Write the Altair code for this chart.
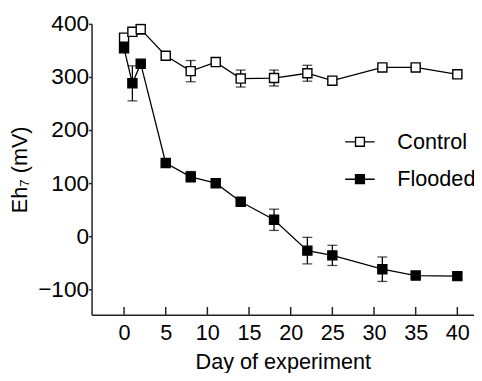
import altair as alt
import pandas as pd

days = [0, 1, 2, 5, 8, 11, 14, 18, 22, 25, 31, 35, 40]
control_mean = [374, 385, 390, 340, 311, 328, 297, 298, 307, 293, 318, 318, 305]
control_err = [4, 4, 9, 3, 20, 3, 16, 15, 15, 3, 3, 3, 3]
flooded_mean = [354, 288, 325, 138, 112, 100, 65, 31, -27, -36, -62, -74, -75]
flooded_err = [4, 33, 4, 4, 10, 4, 4, 20, 25, 19, 23, 4, 6]
series_names = ["Control", "Flooded"]
x_ticks = [0, 5, 10, 15, 20, 25, 30, 35, 40]
y_ticks = [-100, 0, 100, 200, 300, 400]

rows = []
for name, means, errs in [("Control", control_mean, control_err), ("Flooded", flooded_mean, flooded_err)]:
    for d, m, e in zip(days, means, errs):
        rows.append({"day": d, "mean": m, "lo": m - e, "hi": m + e, "series": name})
df = pd.DataFrame(rows)
ticks_df = pd.DataFrame({"day": x_ticks})

FONT = "Liberation Sans"

xenc = alt.X("day:Q", title="Day of experiment",
             scale=alt.Scale(domain=[-3.9, 42], nice=False, zero=False),
             axis=alt.Axis(values=x_ticks, ticks=False, grid=False, labelPadding=8,
                           labelFontSize=22, titleFontSize=22, titlePadding=9))
yenc = alt.Y("mean:Q", title="Eh₇ (mV)",
             scale=alt.Scale(domain=[-148, 400], nice=False, zero=False),
             axis=alt.Axis(values=y_ticks, tickSize=3, grid=False, labelPadding=0,
                           labelFontSize=23, titleFontSize=22, titlePadding=6))

base = alt.Chart(df)

lines = base.mark_line(color="black", strokeWidth=1.3).encode(x=xenc, y=yenc, detail="series:N")
err = base.mark_rule(color="black", strokeWidth=1.3).encode(x="day:Q", y="lo:Q", y2="hi:Q")
cap_lo = base.mark_tick(orient="horizontal", size=10, thickness=1.3, color="black").encode(x="day:Q", y="lo:Q")
cap_hi = base.mark_tick(orient="horizontal", size=10, thickness=1.3, color="black").encode(x="day:Q", y="hi:Q")
pts = base.mark_point(shape="square", size=85, filled=True, stroke="black", strokeWidth=1.4,
                      opacity=1).encode(
    x="day:Q", y="mean:Q",
    fill=alt.Fill("series:N",
                  scale=alt.Scale(domain=series_names, range=["white", "black"]),
                  legend=alt.Legend(title=None, orient="none", legendX=257, legendY=104,
                                    symbolType="M-1,0H-0.3M0.3,0H1M-0.3,-0.3H0.3V0.3H-0.3Z",
                                    symbolSize=900, symbolStrokeColor="black",
                                    symbolStrokeWidth=1.4, labelFontSize=22, labelFont=FONT,
                                    labelColor="black", labelOffset=22, rowPadding=11)))

xticks_layer = alt.Chart(ticks_df).mark_rule(color="#222", strokeWidth=1.5).encode(
    x="day:Q", y=alt.value(296), y2=alt.value(288))

chart = alt.layer(lines, err, cap_lo, cap_hi, xticks_layer, pts).properties(
    width=389, height=296,
    padding={"left": 85, "top": 13, "right": 0, "bottom": 56},
    autosize=alt.AutoSizeParams(type="none"),
).configure_view(stroke=None).configure_axis(
    labelFont=FONT, titleFont=FONT,
    labelColor="black", titleColor="black", titleFontWeight="normal",
    domainColor="#222", domainWidth=1.5, tickColor="#222", tickWidth=1.5,
)

chart.save("out.html", embed_options={"renderer": "svg", "actions": False})
